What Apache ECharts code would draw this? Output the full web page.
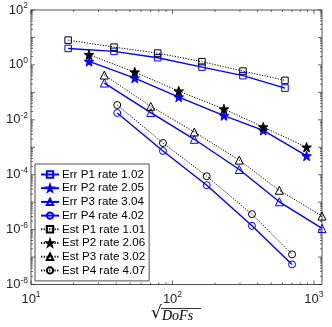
<!DOCTYPE html>
<html>
<head>
<meta charset="utf-8">
<script src="https://cdn.jsdelivr.net/npm/echarts@6/dist/echarts.min.js"></script>
<style>
html, body { margin: 0; padding: 0; background: #fff; }
#main { width: 332px; height: 327px; }
</style>
</head>
<body>
<div id="main"></div>
<script>
// sqrt(DoFs) for each polynomial degree
var xP1 = [18.3, 38.6, 78.6, 161.6, 315, 624];
var xP2 = [25.7, 54.1, 110.7, 231, 438, 887];
var xP3 = [33.0, 70.2, 142.6, 296.5, 569, 1140];
var xP4 = [40.7, 85.7, 174.6, 364.6, 700];

// true errors
var errP1 = [3.98, 3.10, 1.83, 0.832, 0.405, 0.143];
var errP2 = [1.34, 0.331, 0.0675, 0.0142, 0.00415, 0.000483];
var errP3 = [0.218, 0.0183, 0.00195, 1.55e-4, 1.03e-5, 1.1e-6];
var errP4 = [0.0177, 7.33e-4, 4.15e-5, 1.37e-6, 5.4e-8];

// estimators
var estP1 = [7.98, 4.44, 2.69, 1.31, 0.595, 0.273];
var estP2 = [2.35, 0.547, 0.111, 0.0247, 0.00547, 0.001];
var estP3 = [0.426, 0.031, 0.0036, 3.4e-4, 2.7e-5, 3.1e-6];
var estP4 = [0.0345, 1.43e-3, 8.8e-5, 3.66e-6, 1.25e-7];

var names = [
    'Err P1 rate 1.02', 'Err P2 rate 2.05', 'Err P3 rate 3.04', 'Err P4 rate 4.02',
    'Est P1 rate 1.01', 'Est P2 rate 2.06', 'Est P3 rate 3.02', 'Est P4 rate 4.07'
];

var X_MIN = 10, X_MAX = 1140, Y_MIN = 1e-8, Y_MAX = 1e2;
var axisColor = '#262626';
var blue = '#0000ff';
var star = 'path://M0,-10 L2.35,-3.24 L9.51,-3.09 L3.8,1.24 L5.88,8.09 L0,4 L-5.88,8.09 L-3.8,1.24 L-9.51,-3.09 L-2.35,-3.24 Z';
var symbols = ['rect', star, 'triangle', 'circle'];
var symSizes = [6.5, 9.5, 8, 7];

// tick values (1..9 x 10^k), drawn on all four sides like matlab box
var xTickVals = [], yTickVals = [];
for (var e = 1; e <= 3; e++) {
    for (var k = 1; k <= 9; k++) {
        var v = k * Math.pow(10, e);
        if (v <= X_MAX) xTickVals.push(v);
    }
}
for (var e2 = -8; e2 <= 1; e2++) {
    for (var k2 = 1; k2 <= 9; k2++) yTickVals.push(k2 * Math.pow(10, e2));
}
yTickVals.push(Y_MAX);

function isPow10(v) {
    var l = Math.log10(v);
    return Math.abs(l - Math.round(l)) < 1e-6;
}

function pair(xs, ys) {
    return xs.map(function (x, i) { return [x, ys[i]]; });
}

function mkSeries(name, xs, ys, idx, isEst) {
    var col = isEst ? '#000' : blue;
    return {
        name: name,
        type: 'line',
        data: pair(xs, ys),
        symbol: symbols[idx],
        symbolSize: symSizes[idx],
        lineStyle: {
            color: col,
            width: isEst ? 1 : 1.4,
            type: isEst ? [1.2, 1.5] : 'solid'
        },
        itemStyle: {
            color: idx === 1 ? col : 'rgba(0,0,0,0)',
            borderColor: col,
            borderWidth: 1
        },
        z: isEst ? 3 : 2
    };
}

var xs = [xP1, xP2, xP3, xP4];
var errs = [errP1, errP2, errP3, errP4];
var ests = [estP1, estP2, estP3, estP4];
var series = [];
for (var i = 0; i < 4; i++) series.push(mkSeries(names[i], xs[i], errs[i], i, false));
for (var j = 0; j < 4; j++) series.push(mkSeries(names[j + 4], xs[j], ests[j], j, true));

function tickLine(x1, y1, x2, y2) {
    return { type: 'line', shape: { x1: x1, y1: y1, x2: x2, y2: y2 },
        style: { stroke: axisColor, lineWidth: 0.7 } };
}

series.push({
    type: 'custom',
    silent: true,
    data: xTickVals.map(function (v) { return [v, Y_MIN]; }),
    renderItem: function (params, api) {
        var v = api.value(0);
        var len = isPow10(v) ? 4 : 2;
        var b = api.coord([v, Y_MIN]);
        var t = api.coord([v, Y_MAX]);
        return { type: 'group', children: [
            tickLine(b[0], b[1], b[0], b[1] - len),
            tickLine(t[0], t[1], t[0], t[1] + len)
        ] };
    }
});
series.push({
    type: 'custom',
    silent: true,
    data: yTickVals.map(function (v) { return [X_MIN, v]; }),
    renderItem: function (params, api) {
        var v = api.value(1);
        var len = isPow10(v) ? 4 : 2;
        var l = api.coord([X_MIN, v]);
        var r = api.coord([X_MAX, v]);
        return { type: 'group', children: [
            tickLine(l[0], l[1], l[0] + len, l[1]),
            tickLine(r[0], r[1], r[0] - len, r[1])
        ] };
    }
});

function powLabel(v) {
    if (!isPow10(v)) return '';
    return '{b|10}{s|' + Math.round(Math.log10(v)) + '}';
}
var labelRich = {
    b: { fontSize: 13, color: axisColor, fontFamily: 'Liberation Sans' },
    s: { fontSize: 8.5, color: axisColor, fontFamily: 'Liberation Sans', padding: [0, 0, 8, 0] }
};

var chart = echarts.init(document.getElementById('main'));
chart.setOption({
    animation: false,
    backgroundColor: '#fff',
    grid: {
        left: 31, right: 10, top: 10, bottom: 42.5,
        show: true, borderColor: axisColor, borderWidth: 0.8
    },
    xAxis: {
        type: 'log', logBase: 10, min: X_MIN, max: X_MAX, interval: 1,
        axisLine: { show: false },
        axisTick: { show: false },
        splitLine: { show: false },
        axisLabel: { formatter: powLabel, rich: labelRich, margin: 6, showMaxLabel: false }
    },
    yAxis: {
        type: 'log', logBase: 10, min: Y_MIN, max: Y_MAX, interval: 2,
        axisLine: { show: false },
        axisTick: { show: false },
        splitLine: { show: false },
        axisLabel: { formatter: powLabel, rich: labelRich, margin: 3 }
    },
    legend: {
        data: names,
        orient: 'vertical',
        left: 35, top: 164,
        padding: [4, 4, 4, 5],
        itemWidth: 18, itemHeight: 8, itemGap: 0.7,
        backgroundColor: '#fff',
        borderColor: axisColor, borderWidth: 0.8,
        textStyle: { fontSize: 11.6, lineHeight: 13, color: '#000', fontFamily: 'Liberation Sans', padding: [0, 0, 0, -2] }
    },
    graphic: [
        { type: 'text', left: 151, top: 305,
          style: { text: '\u221a', fontSize: 17, fontFamily: 'DejaVu Serif', fill: '#000' } },
        { type: 'line', shape: { x1: 161, y1: 308.5, x2: 201, y2: 308.5 },
          style: { stroke: '#000', lineWidth: 0.8 } },
        { type: 'text', left: 162, top: 309,
          style: { text: 'DoFs', fontSize: 14, fontStyle: 'italic', fontFamily: 'Liberation Serif', fill: '#000' } }
    ],
    series: series
});
</script>
</body>
</html>
